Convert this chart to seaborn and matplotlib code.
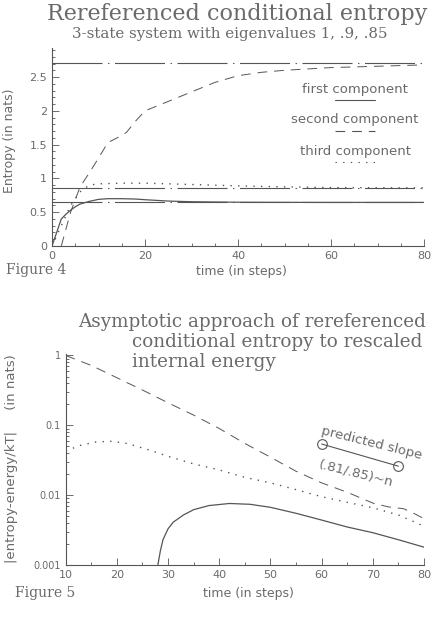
import matplotlib
matplotlib.use("Agg")
import matplotlib.pyplot as plt
import seaborn as sns
import numpy as np
from matplotlib.lines import Line2D
from matplotlib.ticker import MultipleLocator, FixedLocator, FixedFormatter, LogLocator, NullFormatter

# ---------------- data: Figure 4 ----------------
t_first = [0, 1, 2, 3, 4, 5, 6, 8, 10, 12, 15, 18, 20, 25, 30, 40, 50, 60, 70, 80]
first_comp = [0, 0.2, 0.4, 0.47, 0.53, 0.58, 0.62, 0.66, 0.69, 0.70, 0.70, 0.695,
              0.685, 0.665, 0.655, 0.648, 0.646, 0.645, 0.645, 0.645]
t_second = [2, 4, 6, 8, 10, 12, 14, 16, 18, 20, 25, 30, 35, 40, 45, 50, 60, 70, 80]
second_comp = [0, 0.5, 0.87, 1.08, 1.3, 1.53, 1.6, 1.68, 1.85, 2.0, 2.14, 2.28,
               2.42, 2.52, 2.57, 2.6, 2.64, 2.66, 2.68]
t_third = [0, 2, 4, 6, 8, 10, 15, 20, 30, 40, 50, 60, 70, 80]
third_comp = [0, 0.3, 0.6, 0.8, 0.9, 0.92, 0.93, 0.93, 0.91, 0.89, 0.875, 0.865, 0.862, 0.86]
asymptotes = [2.708, 0.86, 0.645]
legend_names = ["first component", "second component", "third component"]
top_yticks = [0, 0.5, 1, 1.5, 2, 2.5]
top_yticklabels = ["0", "0.5", "1", "1.5", "2", "2.5"]
top_xticks = [0, 20, 40, 60, 80]

# ---------------- data: Figure 5 ----------------
t_dash = [10, 15, 20, 25, 30, 35, 40, 45, 50, 55, 60, 65, 70, 73, 76, 78, 80]
dash_vals = [1.0, 0.72, 0.48, 0.32, 0.21, 0.14, 0.09, 0.055, 0.035, 0.022, 0.015,
             0.011, 0.0077, 0.0068, 0.0064, 0.0055, 0.0046]
t_dot = [10, 13, 16, 19, 22, 26, 30, 35, 40, 45, 50, 55, 60, 65, 70, 75, 80]
dot_vals = [0.043, 0.052, 0.058, 0.059, 0.055, 0.045, 0.036, 0.028, 0.023, 0.018,
            0.015, 0.012, 0.0095, 0.0079, 0.0066, 0.0052, 0.0036]
t_solid = [28.0, 28.5, 29.0, 30, 31, 33, 35, 38, 42, 46, 50, 55, 60, 65, 70, 75, 80]
solid_vals = [0.001, 0.0016, 0.0023, 0.0033, 0.0041, 0.0052, 0.0062, 0.0071, 0.0076,
              0.0074, 0.0067, 0.0055, 0.0044, 0.0035, 0.0029, 0.0023, 0.0018]
slope_t = [60, 75]
slope_v = [0.054, 0.026]
bot_yticks = [1, 0.1, 0.01, 0.001]
bot_yticklabels = ["1", "0.1", "0.01", "0.001"]
bot_xticks = [10, 20, 30, 40, 50, 60, 70, 80]

# ---------------- style ----------------
sns.set_style("ticks")
plt.rcParams["font.family"] = ["DejaVu Sans"]
plt.rcParams["lines.scale_dashes"] = False
LC = "#555555"
TC = "#6a6a6a"
SERIF = ["DejaVu Serif"]

fig = plt.figure(figsize=(4.33, 6.4), dpi=100)

def style_axes(ax):
    for s in ["top", "right"]:
        ax.spines[s].set_visible(False)
    for s in ["left", "bottom"]:
        ax.spines[s].set_color(LC)
        ax.spines[s].set_linewidth(0.8)
    ax.tick_params(which="both", direction="in", colors=LC, labelcolor=TC, width=0.6)
    ax.tick_params(which="major", length=5, labelsize=8)
    ax.tick_params(which="minor", length=2.5)
    ax.set_facecolor("white")

dashed = (0, (7, 5))
dotted = (0, (1, 4.5))
dashdot = (0, (36, 4, 1, 4))

RIGHT = 424

# ---- Figure 4 ----
ax1 = fig.add_axes([52 / 433, 1 - 246 / 640, (RIGHT - 52) / 433, 198 / 640])
style_axes(ax1)
for a in asymptotes:
    ax1.axhline(a, color=LC, lw=0.8, linestyle=dashdot)
sns.lineplot(x=t_first, y=first_comp, ax=ax1, color=LC, lw=0.9, sort=False)
sns.lineplot(x=t_second, y=second_comp, ax=ax1, color=LC, lw=0.7, linestyle=dashed, sort=False)
sns.lineplot(x=t_third, y=third_comp, ax=ax1, color=LC, lw=1.0, linestyle=dotted, sort=False)
ax1.set_xlim(0, 80)
ax1.set_ylim(0, 2.93)
ax1.xaxis.set_major_locator(FixedLocator(top_xticks))
ax1.xaxis.set_minor_locator(MultipleLocator(5))
ax1.yaxis.set_major_locator(FixedLocator(top_yticks))
ax1.yaxis.set_major_formatter(FixedFormatter(top_yticklabels))
ax1.yaxis.set_minor_locator(MultipleLocator(0.1))
ax1.set_xlabel("")
ax1.set_ylabel("")

# legend (text above sample line)
leg_y = [89, 120, 151]
styles = ["-", dashed, dotted]
for name, yy, ls in zip(legend_names, leg_y, styles):
    fig.text(355 / 433, 1 - yy / 640, name, ha="center", va="center", fontsize=9.5, color=TC)
    fig.add_artist(Line2D([335 / 433, 375 / 433], [1 - (yy + 11) / 640] * 2,
                          transform=fig.transFigure, color=LC, lw=0.8, linestyle=ls))

fig.text(237 / 433, 1 - 14 / 640, "Rereferenced conditional entropy", ha="center", va="center",
         fontsize=16, color=TC, family=SERIF)
fig.text(230 / 433, 1 - 34 / 640, "3-state system with eigenvalues 1, .9, .85", ha="center",
         va="center", fontsize=10.8, color=TC, family=SERIF)
fig.text(10 / 433, 1 - 141 / 640, "Entropy (in nats)", rotation=90, ha="center", va="center",
         fontsize=9, color=TC)
fig.text(241 / 433, 1 - 272 / 640, "time (in steps)", ha="center", va="center", fontsize=9, color=TC)
fig.text(6 / 433, 1 - 270 / 640, "Figure 4", ha="left", va="center", fontsize=10, color=TC, family=SERIF)

# ---- Figure 5 ----
ax2 = fig.add_axes([65.7 / 433, 1 - 565 / 640, (RIGHT - 65.7) / 433, 211 / 640])
style_axes(ax2)
ax2.set_yscale("log")
sns.lineplot(x=t_dash, y=dash_vals, ax=ax2, color=LC, lw=0.7, linestyle=dashed, sort=False)
sns.lineplot(x=t_dot, y=dot_vals, ax=ax2, color=LC, lw=1.0, linestyle=dotted, sort=False)
sns.lineplot(x=t_solid, y=solid_vals, ax=ax2, color=LC, lw=0.9, sort=False)
sns.lineplot(x=slope_t, y=slope_v, ax=ax2, color=LC, lw=0.8, marker="o", markersize=7,
             markerfacecolor="none", markeredgecolor=LC, markeredgewidth=0.8, sort=False)
ax2.set_xlim(10, 80)
ax2.set_ylim(0.001, 1.05)
ax2.xaxis.set_major_locator(FixedLocator(bot_xticks))
ax2.xaxis.set_minor_locator(MultipleLocator(5))
ax2.yaxis.set_major_locator(FixedLocator(bot_yticks))
ax2.yaxis.set_major_formatter(FixedFormatter(bot_yticklabels))
ax2.yaxis.set_minor_locator(LogLocator(base=10, subs=np.arange(2, 10)))
ax2.yaxis.set_minor_formatter(NullFormatter())
ax2.tick_params(axis="y", which="major", labelsize=7)
ax2.tick_params(axis="x", which="major", labelsize=8)
ax2.set_xlabel("")
ax2.set_ylabel("")
ax2.text(59.9, 0.083, "predicted slope", rotation=-14, rotation_mode="anchor", ha="left",
         va="center", fontsize=9.5, color=TC)
ax2.text(59.5, 0.028, "(.81/.85)~n", rotation=-14, rotation_mode="anchor", ha="left",
         va="center", fontsize=9.5, color=TC)

fig.text(78 / 433, 1 - 322 / 640, "Asymptotic approach of rereferenced", ha="left", va="center",
         fontsize=13.2, color=TC, family=SERIF)
fig.text(132 / 433, 1 - 342 / 640, "conditional entropy to rescaled", ha="left", va="center",
         fontsize=13.2, color=TC, family=SERIF)
fig.text(132 / 433, 1 - 362 / 640, "internal energy", ha="left", va="center",
         fontsize=13.2, color=TC, family=SERIF)
fig.text(12 / 433, 1 - 459 / 640, "|entropy-energy/kT|     (in nats)", rotation=90, ha="center",
         va="center", fontsize=9.5, color=TC)
fig.text(248 / 433, 1 - 593 / 640, "time (in steps)", ha="center", va="center", fontsize=9, color=TC)
fig.text(15 / 433, 1 - 593 / 640, "Figure 5", ha="left", va="center", fontsize=10, color=TC, family=SERIF)

fig.savefig("out.png", dpi=100, facecolor="white")
